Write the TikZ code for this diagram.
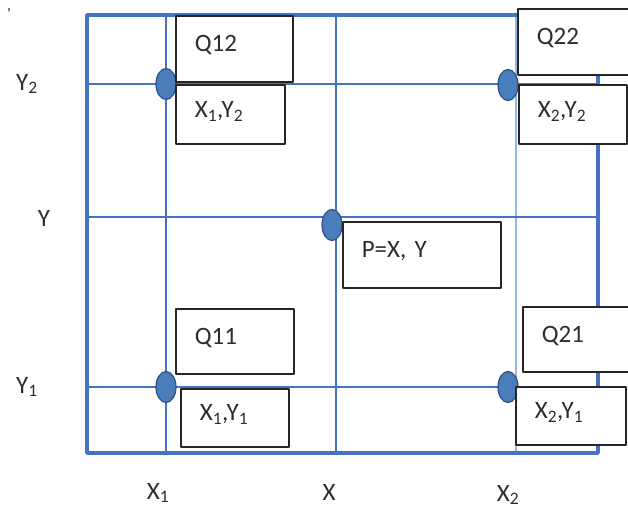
\documentclass[tikz,border=0pt]{standalone}
\usepackage{fontspec}
\setmainfont{Carlito}
\usetikzlibrary{positioning,shapes.geometric}
\definecolor{gridblue}{RGB}{68,114,196}
\definecolor{gridlight}{RGB}{150,182,226}
\definecolor{dotblue}{RGB}{74,126,187}
\definecolor{dotedge}{RGB}{44,80,140}
\definecolor{textgray}{RGB}{45,45,45}
\begin{document}
\begin{tikzpicture}[x=1pt,y=-1pt,line join=round,
  lbl/.style={font=\fontsize{25}{28}\selectfont,text=textgray,inner sep=0pt},
  cornerbox/.style={draw=black!85,line width=1.6pt,fill=white,anchor=north west,
    inner xsep=19pt,inner ysep=0pt,align=left,text depth=10pt,
    font=\fontsize{25}{28}\selectfont,text=textgray},
  knot/.style={ellipse,fill=dotblue,draw=dotedge,line width=1.2pt,
    minimum width=20pt,minimum height=31pt,inner sep=0pt}]
\useasboundingbox (0,0) rectangle (628,510);
% stray mark in the corner
\node[lbl,font=\fontsize{16}{18}\selectfont] (mark) at (9,11) {,};
% grid of the unit cell
\foreach \gx in {166,336} \draw[gridblue,line width=1.3pt] (\gx,15) -- (\gx,453);
\draw[gridlight,line width=2pt] (516,15) -- (516,453);
\foreach \gy in {84,217,387} \draw[gridblue,line width=1.3pt] (87,\gy) -- (598,\gy);
\draw[gridblue,line width=3.6pt] (87,15) rectangle (598,453);
% axis labels
\node[lbl] (ly2) at (27,84) {Y\textsubscript{2}};
\node[lbl] (ly) at (44,218) {Y};
\node[lbl] (ly1) at (27,387) {Y\textsubscript{1}};
\node[lbl] (lx1) at (158,493) {X\textsubscript{1}};
\node[lbl] (lx) at (329,492) {X};
\node[lbl] (lx2) at (508,495) {X\textsubscript{2}};
% the four corner points and P
\node[knot] (k12) at (166,84) {};
\node[knot] (k22) at (508,85) {};
\node[knot] (kp) at (332,225) {};
\node[knot] (k11) at (166,387) {};
\node[knot] (k21) at (508,387) {};
% text boxes
\node[cornerbox,text width=79pt,minimum height=66pt] (q12) at (175,15) {Q12};
\node[cornerbox,text width=71pt,minimum height=59pt] (c12) at (175,84) {X\textsubscript{1},Y\textsubscript{2}};
\node[cornerbox,text width=77pt,minimum height=66pt] (q22) at (517,8) {Q22};
\node[cornerbox,text width=70pt,minimum height=59pt] (c22) at (518,84) {X\textsubscript{2},Y\textsubscript{2}};
\node[cornerbox,text width=120pt,minimum height=66pt] (pbox) at (342,221) {P=X, Y};
\node[cornerbox,text width=80pt,minimum height=65pt] (q11) at (175,308) {Q11};
\node[cornerbox,text width=70pt,minimum height=58pt] (c11) at (180,388) {X\textsubscript{1},Y\textsubscript{1}};
\node[cornerbox,text width=72pt,minimum height=65pt] (q21) at (522,306) {Q21};
\node[cornerbox,text width=72pt,minimum height=58pt] (c21) at (515,386) {X\textsubscript{2},Y\textsubscript{1}};
\end{tikzpicture}
\end{document}
